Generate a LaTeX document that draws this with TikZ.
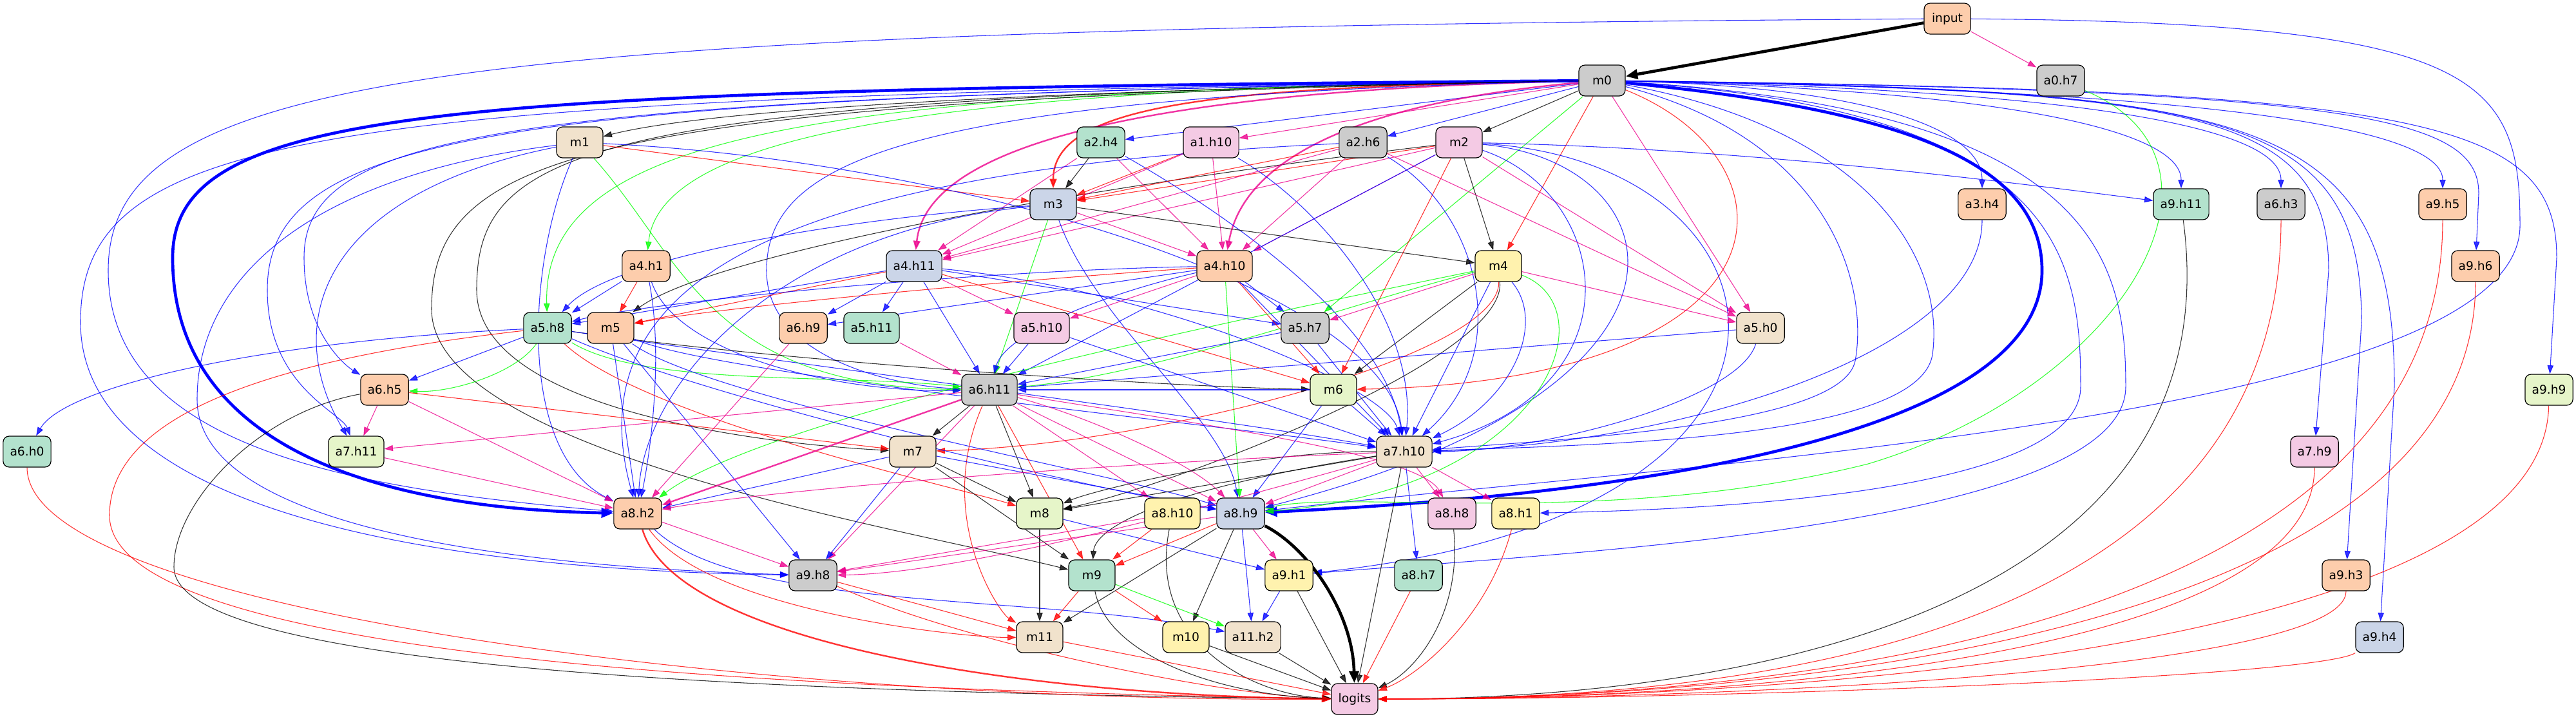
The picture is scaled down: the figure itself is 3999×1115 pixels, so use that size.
\documentclass[tikz,border=0pt]{standalone}
\usepackage{fontspec}
\setmainfont{DejaVu Sans}
\usepackage{xcolor}
\usetikzlibrary{arrows.meta,backgrounds}
\definecolor{pgreen}{RGB}{179,226,205}
\definecolor{ppeach}{RGB}{253,205,172}
\definecolor{pblue}{RGB}{203,213,232}
\definecolor{ppink}{RGB}{244,202,228}
\definecolor{plime}{RGB}{230,245,201}
\definecolor{pyellow}{RGB}{255,242,174}
\definecolor{pbeige}{RGB}{241,226,204}
\definecolor{pgrey}{RGB}{204,204,204}

\begin{document}
\begin{tikzpicture}[x=0.75pt,y=0.75pt,yscale=-1,xscale=1,
  box/.style={draw, rounded corners=7pt, line width=0.9pt, minimum width=54pt, minimum height=36pt, inner xsep=8pt, font=\fontsize{14}{16}\selectfont},
  wire/.style={line width=0.8pt, opacity=0.8, -{Triangle[length=10pt,width=7pt]}},
  eb/.style={wire, blue}, er/.style={wire, red}, eg/.style={wire, green}, em/.style={wire, magenta}, ek/.style={wire, black},
  heavy/.style={line width=3.5pt, opacity=1, -{Triangle[length=14pt,width=11pt]}},
  mid/.style={line width=1.8pt, -{Triangle[length=11pt,width=8pt]}}]
\useasboundingbox (0,0) rectangle (3999,1115);

% Nodes
\node [box, fill=ppeach] (input) at (3023,29) {input};
\node [box, fill=pgrey] (m0) at (2487,125) {m0};
\node [box, fill=pgrey] (a0h7) at (3199,125) {a0.h7};
\node [box, fill=pbeige] (m1) at (900,221) {m1};
\node [box, fill=pgreen] (a2h4) at (1709,221) {a2.h4};
\node [box, fill=ppink] (a1h10) at (1880,221) {a1.h10};
\node [box, fill=pgrey] (a2h6) at (2116,221) {a2.h6};
\node [box, fill=ppink] (m2) at (2265,221) {m2};
\node [box, fill=pblue] (m3) at (1635,317) {m3};
\node [box, fill=ppeach] (a3h4) at (3077,317) {a3.h4};
\node [box, fill=pgreen] (a9h11) at (3386,317) {a9.h11};
\node [box, fill=pgrey] (a6h3) at (3541,317) {a6.h3};
\node [box, fill=ppeach] (a9h5) at (3792,317) {a9.h5};
\node [box, fill=ppeach] (a4h1) at (1003,413) {a4.h1};
\node [box, fill=pblue] (a4h11) at (1419,413) {a4.h11};
\node [box, fill=ppeach] (a4h10) at (1901,413) {a4.h10};
\node [box, fill=pyellow] (m4) at (2326,413) {m4};
\node [box, fill=ppeach] (a9h6) at (3843,413) {a9.h6};
\node [box, fill=pgreen] (a5h8) at (850,509) {a5.h8};
\node [box, fill=ppeach] (m5) at (948,509) {m5};
\node [box, fill=ppeach] (a6h9) at (1247,509) {a6.h9};
\node [box, fill=pgreen] (a5h11) at (1353,509) {a5.h11};
\node [box, fill=ppink] (a5h10) at (1617,509) {a5.h10};
\node [box, fill=pgrey] (a5h7) at (2026,509) {a5.h7};
\node [box, fill=pbeige] (a5h0) at (2733,509) {a5.h0};
\node [box, fill=ppeach] (a6h5) at (597,605) {a6.h5};
\node [box, fill=pgrey] (a6h11) at (1536,605) {a6.h11};
\node [box, fill=plime] (m6) at (2070,605) {m6};
\node [box, fill=plime] (a9h9) at (3957,605) {a9.h9};
\node [box, fill=pgreen] (a6h0) at (42,701) {a6.h0};
\node [box, fill=plime] (a7h11) at (553,701) {a7.h11};
\node [box, fill=pbeige] (m7) at (1417,701) {m7};
\node [box, fill=pbeige] (a7h10) at (2180,701) {a7.h10};
\node [box, fill=ppink] (a7h9) at (3593,701) {a7.h9};
\node [box, fill=ppeach] (a8h2) at (990,797) {a8.h2};
\node [box, fill=plime] (m8) at (1614,797) {m8};
\node [box, fill=pyellow] (a8h10) at (1820,797) {a8.h10};
\node [box, fill=pblue] (a8h9) at (1926,797) {a8.h9};
\node [box, fill=ppink] (a8h8) at (2254,797) {a8.h8};
\node [box, fill=pyellow] (a8h1) at (2353,797) {a8.h1};
\node [box, fill=pgrey] (a9h8) at (1262,893) {a9.h8};
\node [box, fill=pgreen] (m9) at (1695,893) {m9};
\node [box, fill=pyellow] (a9h1) at (2001,893) {a9.h1};
\node [box, fill=pgreen] (a8h7) at (2202,893) {a8.h7};
\node [box, fill=ppeach] (a9h3) at (3642,893) {a9.h3};
\node [box, fill=pbeige] (m11) at (1614,989) {m11};
\node [box, fill=pyellow] (m10) at (1841,989) {m10};
\node [box, fill=pbeige] (a11h2) at (1945,989) {a11.h2};
\node [box, fill=pblue] (a9h4) at (3694,989) {a9.h4};
\node [box, fill=ppink] (logits) at (2103,1085) {logits};

\begin{pgfonlayer}{background}
% input
\draw [ek, heavy] (input) -- (m0);
\draw [em] (input) -- (a0h7);
\draw [eb] (input) .. controls (700,45) and (168,110) .. (168,420) .. controls (168,700) and (560,760) .. (a8h2);
\draw [eb] (input) .. controls (3850,35) and (3912,120) .. (3912,350) .. controls (3912,650) and (2600,720) .. (a8h9);

% m0, left side
\draw [ek] (m0) .. controls (1600,140) and (1100,170) .. (m1);
\draw [eb] (m0) -- (a2h4);
\draw [em] (m0) -- (a1h10);
\draw [eb] (m0) -- (a2h6);
\draw [ek] (m0) -- (m2);
\draw [er, mid] (m0) .. controls (1900,135) and (1635,160) .. (m3);
\draw [em, mid] (m0) .. controls (1800,140) and (1440,220) .. (a4h11);
\draw [em, mid] (m0) .. controls (2100,160) and (1930,250) .. (a4h10);
\draw [eg] (m0) .. controls (1500,135) and (1025,200) .. (a4h1);
\draw [eg] (m0) .. controls (1300,140) and (840,200) .. (a5h8);
\draw [eb] (m0) .. controls (800,150) and (472,200) .. (472,400) .. controls (472,520) and (540,570) .. (a6h5);
\draw [eb] (m0) .. controls (800,150) and (415,200) .. (415,450) .. controls (415,600) and (530,640) .. (a7h11);
\draw [eb] (m0) .. controls (500,150) and (125,200) .. (125,500) .. controls (125,800) and (700,885) .. (a9h8);
\draw [eb, heavy] (m0) .. controls (700,140) and (268,160) .. (268,400) .. controls (268,700) and (600,790) .. (a8h2);
\draw [ek] (m0) .. controls (900,150) and (740,230) .. (740,450) .. controls (740,640) and (1200,690) .. (m7);
\draw [ek] (m0) .. controls (900,155) and (670,240) .. (670,480) .. controls (670,700) and (1400,820) .. (m9);
\draw [eb] (m0) .. controls (1400,150) and (1190,250) .. (1190,420) .. controls (1190,560) and (1400,600) .. (a6h11);
\draw [er] (m0) -- (m4);
\draw [eg] (m0) -- (a5h7);
\draw [em] (m0) -- (a5h0);
\draw [er] (m0) .. controls (2800,250) and (2800,590) .. (m6);

% m0, right side
\draw [eb] (m0) .. controls (2900,135) and (3077,200) .. (a3h4);
\draw [eb] (m0) .. controls (3100,140) and (3386,200) .. (a9h11);
\draw [eb] (m0) .. controls (3250,140) and (3541,200) .. (a6h3);
\draw [eb] (m0) .. controls (3450,140) and (3792,200) .. (a9h5);
\draw [eb] (m0) .. controls (3650,140) and (3848,180) .. (3848,300) -- (a9h6);
\draw [eb] (m0) .. controls (3750,140) and (3969,180) .. (3969,400) -- (a9h9);
\draw [eb] (m0) .. controls (3400,140) and (3615,170) .. (3615,420) -- (a7h9);
\draw [eb] (m0) .. controls (3450,140) and (3666,170) .. (3666,500) -- (a9h3);
\draw [eb] (m0) .. controls (3500,140) and (3717,170) .. (3717,600) -- (a9h4);
\draw [eb, heavy] (m0) .. controls (2950,170) and (3170,250) .. (3170,420) .. controls (3170,640) and (2700,760) .. (a8h9);
\draw [eb] (m0) .. controls (3250,170) and (3300,400) .. (3300,600) .. controls (3300,820) and (2400,860) .. (a9h1);
\draw [eb] (m0) .. controls (3200,170) and (3230,400) .. (3230,600) .. controls (3230,760) and (2700,790) .. (a8h1);
\draw [eb] (m0) .. controls (2900,200) and (3020,400) .. (3000,550) .. controls (2980,680) and (2500,690) .. (a7h10);
\draw [eb] (m0) .. controls (2850,220) and (2900,450) .. (2880,560) .. controls (2860,660) and (2450,680) .. (a7h10);
\draw [eg] (a0h7) .. controls (3500,250) and (3300,600) .. (2900,720) .. controls (2500,820) and (2100,760) .. (a8h9);

% m1
\draw [er] (m1) -- (m3);
\draw [eb] (m1) .. controls (1500,250) and (2150,450) .. (a7h10);
\draw [eg] (m1) .. controls (1060,400) and (1100,600) .. (a6h11);
\draw [eb] (m1) .. controls (820,400) and (800,700) .. (a8h2);
\draw [eb] (m1) .. controls (500,270) and (306,420) .. (306,620) .. controls (306,820) and (800,880) .. (a9h8);
\draw [eb] (m1) .. controls (500,300) and (434,500) .. (a7h11);

% m2
\draw [er] (m2) -- (m3);
\draw [ek] (m2) -- (m4);
\draw [ek] (m2) .. controls (1600,300) and (1100,400) .. (m5);
\draw [er] (m2) -- (m6);
\draw [em] (m2) -- (a4h11);
\draw [em] (m2) -- (a4h10);
\draw [em] (m2) -- (a5h0);
\draw [eb] (m2) .. controls (2700,230) and (3100,280) .. (a9h11);
\draw [eb] (m2) -- (a6h11);
\draw [eb] (m2) .. controls (2500,300) and (2550,600) .. (a7h10);
\draw [eb] (m2) .. controls (2600,250) and (2700,600) .. (a8h9);
\draw [eb] (m2) .. controls (2800,250) and (2900,800) .. (a9h1);

% layer 1-2 heads
\draw [ek] (a2h4) -- (m3);
\draw [em] (a2h4) -- (a4h11);
\draw [em] (a2h4) -- (a4h10);
\draw [eb] (a2h4) .. controls (1900,330) and (2150,500) .. (a7h10);
\draw [er] (a1h10) -- (m3);
\draw [em] (a1h10) -- (a4h11);
\draw [em] (a1h10) -- (a4h10);
\draw [eb] (a1h10) .. controls (2050,320) and (2200,500) .. (a7h10);
\draw [er] (a2h6) -- (m3);
\draw [em] (a2h6) -- (a4h11);
\draw [em] (a2h6) -- (a4h10);
\draw [em] (a2h6) -- (a5h0);
\draw [eb] (a2h6) .. controls (2300,330) and (2350,550) .. (a7h10);
\draw [eb] (a2h6) .. controls (1300,260) and (880,400) .. (a8h2);

% m3
\draw [ek] (m3) -- (m4);
\draw [em] (m3) -- (a4h10);
\draw [eb] (m3) .. controls (1700,500) and (1900,650) .. (a8h9);
\draw [eg] (m3) -- (a6h11);
\draw [eb] (m3) .. controls (1300,340) and (950,400) .. (a5h8);
\draw [eb] (m3) .. controls (1200,360) and (1000,600) .. (a8h2);
\draw [eb] (a3h4) .. controls (3077,550) and (2600,690) .. (a7h10);

% layer 4
\draw [er] (a4h1) -- (m5);
\draw [eb] (a4h1) -- (a5h8);
\draw [eb] (a4h1) .. controls (1050,550) and (1300,610) .. (a6h11);
\draw [eb] (a4h1) .. controls (1030,550) and (1010,700) .. (a8h2);
\draw [eb] (a4h11) -- (a5h8);
\draw [er] (a4h11) -- (m5);
\draw [eb] (a4h11) -- (a6h9);
\draw [eb] (a4h11) -- (a5h11);
\draw [eb] (a4h11) -- (a6h11);
\draw [em] (a4h11) -- (a5h10);
\draw [eb] (a4h11) -- (a5h7);
\draw [eb] (a4h11) .. controls (1800,450) and (2150,600) .. (a7h10);
\draw [er] (a4h11) -- (m6);
\draw [eb] (a4h10) .. controls (1500,420) and (1000,470) .. (a5h8);
\draw [er] (a4h10) .. controls (1500,440) and (1100,480) .. (m5);
\draw [eb] (a4h10) -- (a6h9);
\draw [em] (a4h10) -- (a5h10);
\draw [eb] (a4h10) -- (a5h7);
\draw [eb] (a4h10) .. controls (1700,460) and (1560,520) .. (a6h11);
\draw [er] (a4h10) -- (m6);
\draw [eb] (a4h10) -- (a7h10);
\draw [eg] (a4h10) -- (a8h9);

% m4
\draw [em] (m4) -- (a5h7);
\draw [em] (m4) -- (a5h0);
\draw [ek] (m4) -- (m6);
\draw [eg] (m4) .. controls (2100,470) and (1800,580) .. (a6h11);
\draw [er] (m4) .. controls (2330,550) and (1800,690) .. (m7);
\draw [ek] (m4) .. controls (2340,560) and (1800,760) .. (m8);
\draw [eb] (m4) -- (a7h10);
\draw [eb] (m4) .. controls (2400,500) and (2350,620) .. (a7h10);
\draw [eg] (m4) .. controls (2500,480) and (2400,760) .. (a8h9);
\draw [eg] (m4) .. controls (2000,480) and (1200,640) .. (a8h2);

% layer 5
\draw [eb] (a5h8) .. controls (400,530) and (100,600) .. (a6h0);
\draw [eb] (a5h8) -- (a6h5);
\draw [eg] (a5h8) .. controls (800,580) and (700,610) .. (a6h5);
\draw [eg] (a5h8) .. controls (1000,600) and (1300,580) .. (a6h11);
\draw [ek] (a5h8) .. controls (1200,560) and (1800,600) .. (m6);
\draw [er] (a5h8) .. controls (400,560) and (170,650) .. (170,800) .. controls (170,1020) and (1200,1070) .. (logits);
\draw [er] (a5h8) .. controls (1000,650) and (1500,760) .. (m8);
\draw [eb] (a5h8) .. controls (1200,560) and (1900,650) .. (a7h10);
\draw [eb] (a5h8) .. controls (1100,620) and (1700,760) .. (a8h9);
\draw [eb] (m5) -- (a8h2);
\draw [eb] (m5) .. controls (1100,620) and (1750,740) .. (a8h9);
\draw [eb] (m5) .. controls (1100,580) and (1900,660) .. (a7h10);
\draw [eb] (m5) -- (a9h8);
\draw [em] (a6h9) -- (a8h2);
\draw [em] (a5h11) -- (a6h11);
\draw [eb] (a5h10) -- (a6h11);
\draw [eb] (a5h10) -- (a7h10);
\draw [eb] (a5h7) -- (a7h10);
\draw [eb] (a5h7) -- (a6h11);
\draw [eb] (a5h0) -- (a6h11);
\draw [eb] (a5h0) .. controls (2700,620) and (2400,700) .. (a7h10);

% layer 6
\draw [em] (a6h5) -- (a7h11);
\draw [er] (a6h5) -- (m7);
\draw [em] (a6h5) -- (a8h2);
\draw [ek] (a6h5) .. controls (400,640) and (270,780) .. (270,880) .. controls (270,1040) and (1200,1075) .. (logits);
\draw [ek] (a6h11) -- (m7);
\draw [em] (a6h11) -- (a7h11);
\draw [em, mid] (a6h11) -- (a8h2);
\draw [ek] (a6h11) -- (m8);
\draw [em] (a6h11) -- (a8h10);
\draw [em] (a6h11) -- (a8h9);
\draw [em] (a6h11) .. controls (1700,650) and (1850,720) .. (a8h9);
\draw [em] (a6h11) .. controls (1800,650) and (2200,700) .. (a8h8);
\draw [em] (a6h11) -- (a9h8);
\draw [er] (a6h11) -- (m9);
\draw [er] (a6h11) .. controls (1450,800) and (1550,950) .. (m11);
\draw [eb] (m6) -- (a6h11);
\draw [eb] (m6) -- (a7h10);
\draw [eb] (m6) -- (a8h9);

% layer 7
\draw [em] (a7h11) -- (a8h2);
\draw [eb] (m7) -- (a8h2);
\draw [eb] (m7) -- (a9h8);
\draw [ek] (m7) -- (m8);
\draw [ek] (m7) -- (m9);
\draw [eb] (m7) -- (a8h9);
\draw [ek] (a7h10) -- (m8);
\draw [ek] (a7h10) .. controls (1950,700) and (1700,760) .. (m8);
\draw [em] (a7h10) .. controls (1700,720) and (1200,760) .. (a8h2);
\draw [em] (a7h10) .. controls (1900,780) and (1500,890) .. (a9h8);
\draw [em] (a7h10) -- (a8h9);
\draw [em] (a7h10) -- (a8h8);
\draw [em] (a7h10) -- (a8h1);
\draw [eb] (a7h10) -- (a8h7);
\draw [ek] (a7h10) -- (logits);
\draw [ek] (a7h10) .. controls (1800,760) and (1700,820) .. (m9);

% layer 8
\draw [em] (a8h2) -- (a9h8);
\draw [er] (a8h2) .. controls (1100,950) and (1500,990) .. (m11);
\draw [eb] (a8h2) .. controls (1150,950) and (1600,920) .. (a11h2);
\draw [er, mid] (a8h2) .. controls (1050,1000) and (1600,1080) .. (logits);
\draw [ek] (m8) -- (m11);
\draw [eb] (m8) -- (a9h1);
\draw [em] (a8h10) -- (a9h8);
\draw [er] (a8h10) -- (m9);
\draw [ek] (a8h10) .. controls (1780,1000) and (1950,1080) .. (logits);
\draw [em] (a8h9) -- (a9h8);
\draw [er] (a8h9) -- (m9);
\draw [em] (a8h9) -- (a9h1);
\draw [ek] (a8h9) -- (m11);
\draw [ek] (a8h9) -- (m10);
\draw [eb] (a8h9) -- (a11h2);
\draw [ek, heavy] (a8h9) .. controls (2030,850) and (2100,950) .. (logits);
\draw [ek] (a8h8) .. controls (2270,950) and (2200,1040) .. (logits);
\draw [er] (a8h1) .. controls (2310,960) and (2200,1050) .. (logits);

% layer 9 and on
\draw [er] (a9h8) -- (m11);
\draw [er] (a9h8) .. controls (1500,1000) and (1900,1080) .. (logits);
\draw [er] (m9) -- (m11);
\draw [er] (m9) -- (m10);
\draw [eg] (m9) -- (a11h2);
\draw [ek] (m9) .. controls (1720,1020) and (1900,1080) .. (logits);
\draw [eb] (a9h1) -- (a11h2);
\draw [ek] (a9h1) -- (logits);
\draw [er] (a8h7) -- (logits);
\draw [er] (m11) -- (logits);
\draw [ek] (m10) -- (logits);
\draw [ek] (a11h2) -- (logits);

% into logits from the right
\draw [ek] (a9h11) .. controls (3470,950) and (2700,1085) .. (logits);
\draw [er] (a6h3) .. controls (3541,1000) and (2700,1085) .. (logits);
\draw [er] (a9h5) .. controls (3792,1000) and (2700,1085) .. (logits);
\draw [er] (a9h6) .. controls (3843,1000) and (2700,1085) .. (logits);
\draw [er] (a9h9) .. controls (3950,1020) and (2700,1085) .. (logits);
\draw [er] (a7h9) .. controls (3593,1020) and (2700,1085) .. (logits);
\draw [er] (a9h3) .. controls (3642,1040) and (2700,1085) .. (logits);
\draw [er] (a9h4) .. controls (3600,1050) and (2700,1085) .. (logits);
\draw [er] (a6h0) .. controls (42,950) and (1200,1090) .. (logits);
\end{pgfonlayer}

\end{tikzpicture}
\end{document}
